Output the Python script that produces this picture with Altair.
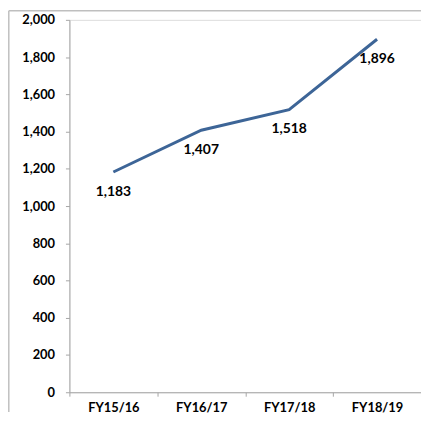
import altair as alt
import pandas as pd

years = ["FY15/16", "FY16/17", "FY17/18", "FY18/19"]
values = [1183, 1407, 1518, 1896]
labels = ["1,183", "1,407", "1,518", "1,896"]

df = pd.DataFrame({"year": years, "value": values, "label": labels})

FONT = "Lato"

x = alt.X("year:N", sort=years, title=None,
          scale=alt.Scale(paddingInner=0, paddingOuter=0),
          axis=alt.Axis(labelAngle=0, labelFont=FONT, labelFontWeight="bold",
                        labelFontSize=13, labelColor="#000", labelPadding=5,
                        tickSize=4, tickColor="#a6a6a6", domainColor="#a6a6a6",
                        tickBand="extent", grid=False))
y = alt.Y("value:Q", title=None,
          scale=alt.Scale(domain=[0, 2000], nice=False),
          axis=alt.Axis(values=list(range(0, 2001, 200)), format=",.0f",
                        labelFont=FONT, labelFontWeight="bold", labelFontSize=13,
                        labelColor="#000", labelPadding=11, tickSize=4,
                        tickColor="#a6a6a6", domainColor="#a6a6a6", grid=False))

frame = pd.DataFrame({"a": [0]})
border_left = alt.Chart(frame).mark_rule(stroke="#bfbfbf", strokeWidth=1.5).encode(
    x=alt.value(-61.2), y=alt.value(-9.2), y2=alt.value(396))
border_top = alt.Chart(frame).mark_rule(stroke="#bfbfbf", strokeWidth=1.5).encode(
    x=alt.value(-61.2), x2=alt.value(355), y=alt.value(-9.2))

line = alt.Chart(df).mark_line(color="#3d6597", strokeWidth=3).encode(x=x, y=y)
text = alt.Chart(df).mark_text(font=FONT, fontWeight="bold", fontSize=14,
                               color="#000", dy=20, baseline="middle").encode(
    x=x, y=y, text="label:N")

chart = alt.layer(border_left, border_top, line, text).properties(
    width=355, height=376,
    autosize=alt.AutoSizeParams(type="none"),
    padding={"left": 62, "top": 10, "right": 0, "bottom": 20},
).configure_view(stroke=None).configure(background="white")

chart.save("out.html", embed_options={"renderer": "svg", "actions": False})
